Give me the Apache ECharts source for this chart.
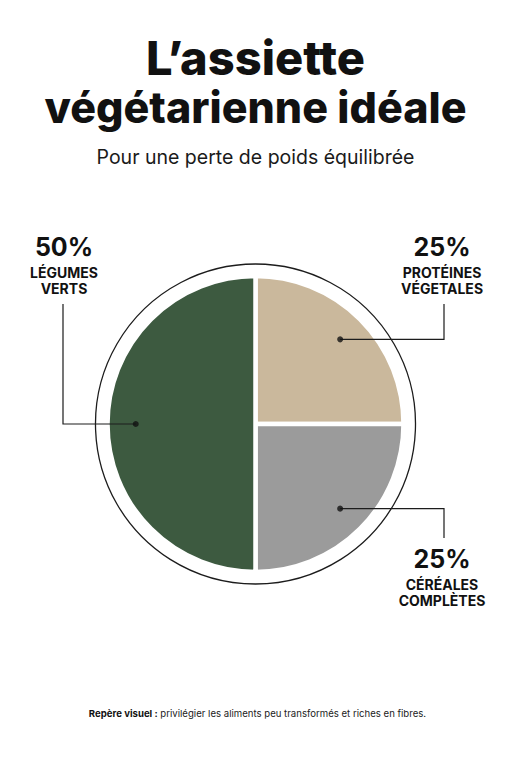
<!DOCTYPE html>
<html><head><meta charset="utf-8">
<script src="https://cdn.jsdelivr.net/npm/echarts@6/dist/echarts.min.js"></script>
<style>html,body{margin:0;padding:0;background:#fff}#c{width:511px;height:768px}</style>
</head><body><div id="c"></div>
<script>
// ---- data ----
const titleLines = ['L\u2019assiette', 'végétarienne idéale'];
const subtitle = 'Pour une perte de poids équilibrée';
const categories = ['Protéines végétales', 'Céréales complètes', 'Légumes verts'];
const labelLine1 = ['PROTÉINES', 'CÉRÉALES', 'LÉGUMES'];
const labelLine2 = ['VÉGETALES', 'COMPLÈTES', 'VERTS'];
const values = [25, 25, 50];
const colors = ['#cab89c', '#9b9b9b', '#3d5a40'];
const noteBold = 'Repère visuel :';
const noteText = 'privilégier les aliments peu transformés et riches en fibres.';

// ---- layout ----
const CX = 255.5, CY = 424, R = 148, PLATE_R = 160, DOT_R = 0.82;
const labelPos = [ {x: 442, y: 247, lineX: 444, endY: 304},
                   {x: 442, y: 559, lineX: 444, endY: 538},
                   {x: 64,  y: 247, lineX: 63,  endY: 304} ];
const FONT = 'Inter, "Noto Sans", sans-serif';

const total = values.reduce((a, b) => a + b, 0);
const mids = [];
let acc = 0;
values.forEach(v => { mids.push(acc + v / 2); acc += v; });

const chart = echarts.init(document.getElementById('c'), null, {renderer: 'svg'});
chart.setOption({
  backgroundColor: '#fff',
  animation: false,
  polar: {center: [CX, CY], radius: R - 2},
  angleAxis: {type: 'value', min: 0, max: total, startAngle: 90, clockwise: true, show: false},
  radiusAxis: {type: 'value', min: 0, max: 1, show: false},
  series: [
    {type: 'pie', silent: true, center: [CX, CY], radius: [0, PLATE_R], label: {show: false},
     labelLine: {show: false}, itemStyle: {color: '#fff', borderColor: '#1c1c1c', borderWidth: 1.3},
     data: [{value: 1, name: 'plate'}], z: 1},
    {type: 'pie', silent: true, center: [CX, CY], radius: [0, R], startAngle: 90, clockwise: true,
     label: {show: false}, labelLine: {show: false},
     itemStyle: {borderColor: '#fff', borderWidth: 4.5},
     data: categories.map((c, i) => ({name: c, value: values[i], itemStyle: {color: colors[i]}})), z: 2},
    {type: 'scatter', coordinateSystem: 'polar', silent: true, symbolSize: 6,
     itemStyle: {color: '#111'}, z: 5,
     data: mids.map(m => [DOT_R, m])}
  ]
});

const pts = mids.map(m => chart.convertToPixel({seriesIndex: 2}, [DOT_R, m]));
const txt = (text, x, y, font, fill) => ({type: 'text', silent: true, z: 10, style: {
  text, x, y, font, fill: fill || '#111', align: 'center', verticalAlign: 'middle',
  textAlign: 'center', textVerticalAlign: 'middle'}});

const graphics = [
  txt(titleLines[0], 255.5, 57, '800 47px ' + FONT),
  txt(titleLines[1], 255.5, 107, '800 43px ' + FONT),
  txt(subtitle, 255.5, 157, '400 19.5px ' + FONT, '#1a1a1a'),
  {type: 'text', silent: true, z: 10, style: {
    text: '{b|' + noteBold + '} ' + noteText, x: 257.5, y: 713,
    font: '400 9.6px ' + FONT, fill: '#222', align: 'center', verticalAlign: 'middle',
    textAlign: 'center', textVerticalAlign: 'middle',
    rich: {b: {fontWeight: 700, fontSize: 9.6, fontFamily: FONT, fill: '#111'}}}}
];
pts.forEach((p, i) => {
  const L = labelPos[i];
  graphics.push({type: 'polyline', silent: true, z: 4,
    shape: {points: [p, [L.lineX, p[1]], [L.lineX, L.endY]]},
    style: {stroke: '#1c1c1c', lineWidth: 1.2, fill: null}});
  graphics.push(txt(values[i] + '%', L.x, L.y, '700 25px ' + FONT));
  graphics.push(txt(labelLine1[i], L.x, L.y + 25.5, '700 14px ' + FONT));
  graphics.push(txt(labelLine2[i], L.x, L.y + 41, '700 14px ' + FONT));
});
chart.setOption({graphic: graphics});
</script></body></html>
